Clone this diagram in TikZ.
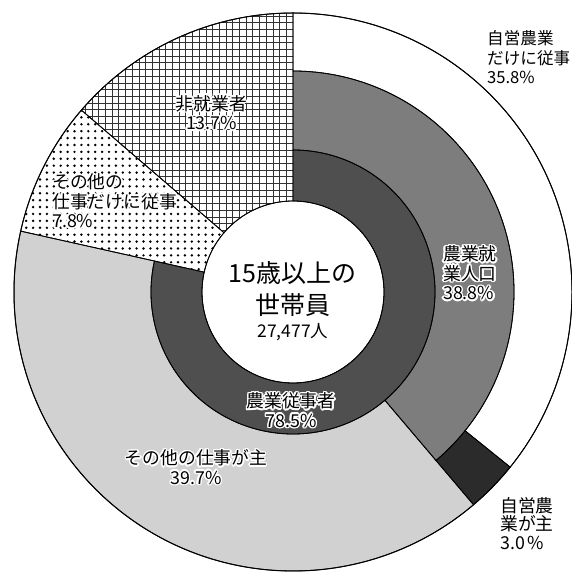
\documentclass[tikz,border=0pt]{standalone}
\usepackage{fontspec}
\setmainfont{Noto Sans CJK JP}
\usetikzlibrary{calc}
\definecolor{ringdark}{gray}{0.31}
\definecolor{ringmid}{gray}{0.49}
\definecolor{lightg}{gray}{0.82}
\definecolor{blackseg}{gray}{0.17}
\newcommand\annpath[4]{($(C)+(#1:#3)$) arc[start angle=#1,end angle=#2,radius=#3] -- ($(C)+(#2:#4)$) arc[start angle=#2,end angle=#1,radius=#4] -- cycle}
\newcommand\halolabel[4]{%
  \foreach \hang in {0,22.5,...,337.5}{\node[#3,text=white] at ([shift={(\hang:1.5)}]#2) {#4};}%
  \node[#3] (#1) at (#2) {#4};}
\begin{document}
\begin{tikzpicture}[x=1pt,y=1pt,
  edge/.style={draw=black,line width=0.8pt},
  gridln/.style={draw=black!80,line width=0.75pt},
  lbl/.style={inner sep=0pt,font=\fontsize{17.8}{19.5}\selectfont},
  lblc/.style={lbl,align=center,anchor=center},
  lbll/.style={lbl,align=left,anchor=west}]
\useasboundingbox (0,0) rectangle (571,572);
\fill[white] (0,0) rectangle (571,572);
\coordinate (C) at (293,280);
% inner ring: 農業従事者
\fill[ringdark] \annpath{90}{-192.6}{91}{142};
% second ring: 農業就業人口
\fill[ringmid] \annpath{90}{-49.68}{142}{221};
% outer ring: 自営農業だけに従事
\fill[white] \annpath{90}{-38.88}{221}{279};
% 自営農業が主
\fill[blackseg] \annpath{-38.88}{-49.68}{221}{279};
% その他の仕事が主
\fill[lightg] \annpath{-49.68}{-192.6}{142}{279};
% 非就業者 (grid)
\fill[white] \annpath{90}{139.32}{91}{279};
\begin{scope}
  \clip \annpath{90}{139.32}{91}{279};
  \foreach \k in {0,...,43} \draw[gridln] ({293-\k*6.7},270) -- ({293-\k*6.7},572);
  \foreach \k in {-6,...,42} \draw[gridln] (0,{529.3-\k*6.7}) -- (300,{529.3-\k*6.7});
\end{scope}
% その他の仕事だけに従事 (dots)
\fill[white] \annpath{139.32}{167.4}{91}{279};
\begin{scope}
  \clip \annpath{139.32}{167.4}{91}{279};
  \foreach \i in {0,...,36} {\foreach \j in {0,...,31} {\fill[black] ({60.7+(\i-7)*6.9},{427-(\j-7)*6.9}) circle (1.35);}}
\end{scope}
% outlines
\draw[edge] \annpath{90}{-192.6}{91}{142};
\draw[edge] \annpath{90}{-49.68}{142}{221};
\draw[edge] \annpath{90}{-38.88}{221}{279};
\draw[edge] \annpath{-38.88}{-49.68}{221}{279};
\draw[edge] \annpath{-49.68}{-192.6}{142}{279};
\draw[edge] \annpath{90}{139.32}{91}{279};
\draw[edge] \annpath{139.32}{167.4}{91}{279};
\draw[edge] (C) circle (91);
\draw[edge,line width=1pt] (C) circle (279);
% centre
\node[inner sep=0pt,align=center,font=\fontsize{25}{32}\selectfont] (title) at (292.5,283) {15歳以上の\\世帯員};
\node[inner sep=0pt,font=\fontsize{17.5}{20}\selectfont] (total) at (293,240) {27,477人};
% labels
\halolabel{nonwork}{211.5,459.5}{lblc}{非就業者\\13.7\%}
\halolabel{otheronly}{52,371}{lbll}{その他の\\仕事だけに従事\\7.8\%}
\node[lbll,font=\fontsize{16.6}{19.5}\selectfont] (farmonly) at (487,514.5) {自営農業\\だけに従事\\35.8\%};
\halolabel{farmpop}{443,299}{lbll}{農業就\\業人口\\38.8\%}
\halolabel{farmer}{291,162}{lblc}{農業従事者\\78.5\%}
\halolabel{othermain}{196,105}{lblc}{その他の仕事が主\\39.7\%}
\node[lbll,font=\fontsize{17.8}{18.5}\selectfont] (farmmain) at (500,48.5) {自営農\\業が主\\3.0\,\%};
\end{tikzpicture}
\end{document}
